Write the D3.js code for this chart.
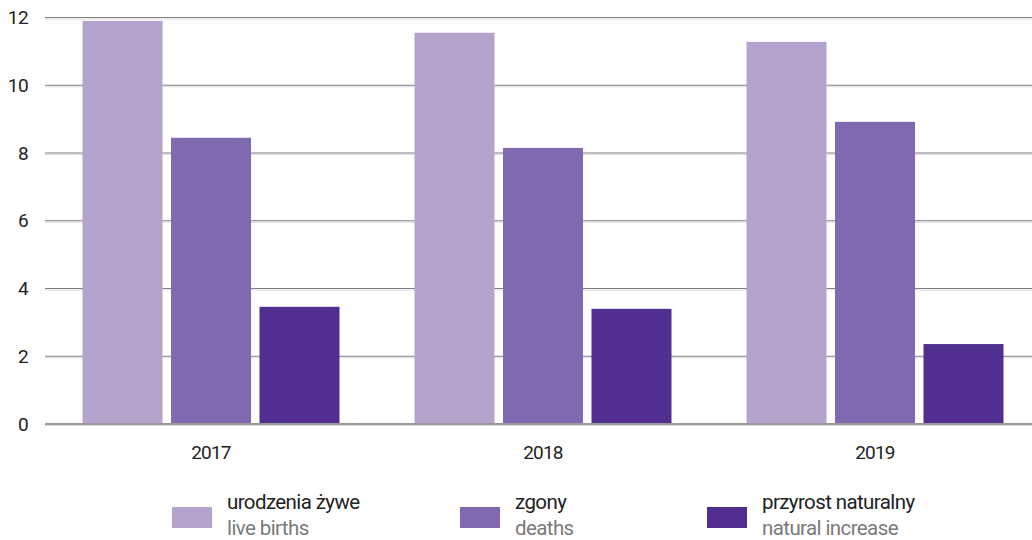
<!DOCTYPE html>
<html><head><meta charset="utf-8">
<script src="https://cdn.jsdelivr.net/npm/d3@7"></script>
<style>
html,body{margin:0;padding:0;background:#fff;}
svg{display:block;font-family:"Roboto","Open Sans",sans-serif;}
</style></head>
<body><svg id="c" width="1032" height="540"></svg>
<script>
const years = ["2017","2018","2019"];
const seriesKeys = ["births","deaths","increase"];
const seriesPL = ["urodzenia żywe","zgony","przyrost naturalny"];
const seriesEN = ["live births","deaths","natural increase"];
const colors = ["#b3a3cd","#7f69af","#512f91"];
const births = [11.9, 11.55, 11.28];
const deaths = [8.45, 8.15, 8.92];
const increase = [3.46, 3.4, 2.36];
const yTicks = [0,2,4,6,8,10,12];

(function(){
const values = {births, deaths, increase};
const svg = d3.select("#c");
const plotLeft = 45, plotRight = 1041, plotTop = 17.5, plotBottom = 424;

const x0 = d3.scaleBand().domain(years).range([plotLeft, plotRight]).padding(0);
const x1 = d3.scaleBand().domain(seriesKeys).range([37.5, x0.bandwidth()-37.5]).paddingInner(8.5/88.5).paddingOuter(0);
const y = d3.scaleLinear().domain([0,12]).range([plotBottom, plotTop]);

// gridlines
const grid = svg.append("g");
grid.selectAll("line.g2").data(yTicks).join("line").attr("class","g2")
  .attr("x1", plotLeft).attr("x2", 1032)
  .attr("y1", d => y(d)+1.5).attr("y2", d => y(d)+1.5)
  .attr("stroke", "#dcdcdc").attr("stroke-width", 1);
grid.selectAll("line.g").data(yTicks).join("line").attr("class","g")
  .attr("x1", plotLeft).attr("x2", 1032)
  .attr("y1", d => y(d)).attr("y2", d => y(d))
  .attr("stroke", "#7f7f7f").attr("stroke-width", 1.2);

// y tick labels
svg.append("g").selectAll("text").data(yTicks).join("text")
  .attr("x", 28).attr("y", d => y(d)).attr("dy", "0.35em")
  .attr("text-anchor", "end").attr("font-size", 19).attr("letter-spacing", "-0.6px").attr("fill", "#222")
  .text(d => d);

// bars
const groups = svg.append("g").selectAll("g").data(years).join("g")
  .attr("transform", d => `translate(${x0(d)},0)`);
groups.selectAll("rect").data((d,i) => seriesKeys.map((k,j) => ({k, j, v: values[k][i]}))).join("rect")
  .attr("x", d => x1(d.k)).attr("width", x1.bandwidth())
  .attr("y", d => y(d.v)).attr("height", d => y(0) - y(d.v))
  .attr("fill", d => colors[d.j]);

// baseline
svg.append("line").attr("x1", plotLeft).attr("x2", 1032).attr("y1", y(0)).attr("y2", y(0))
  .attr("stroke", "#999").attr("stroke-width", 2);

// x labels
svg.append("g").selectAll("text").data(years).join("text")
  .attr("x", d => x0(d) + x0.bandwidth()/2).attr("y", 452).attr("dy", "0.35em")
  .attr("text-anchor", "middle").attr("font-size", 19).attr("letter-spacing", "-0.8px").attr("fill", "#222")
  .text(d => d);

// legend
const legX = [172, 460, 707];
const leg = svg.append("g").selectAll("g").data(seriesKeys).join("g")
  .attr("transform", (d,i) => `translate(${legX[i]},0)`);
leg.append("rect").attr("x", 0).attr("y", 507).attr("width", 40).attr("height", 21)
  .attr("fill", (d,i) => colors[i]);
leg.append("text").attr("x", 55).attr("y", 502).attr("dy", "0.35em")
  .attr("font-size", 20.5).attr("letter-spacing", "-0.6px").attr("fill", "#222").text((d,i) => seriesPL[i]);
leg.append("text").attr("x", 55).attr("y", 528).attr("dy", "0.35em")
  .attr("font-size", 20.5).attr("letter-spacing", "-0.6px").attr("fill", "#7a7a7a").text((d,i) => seriesEN[i]);
})();
</script></body></html>
